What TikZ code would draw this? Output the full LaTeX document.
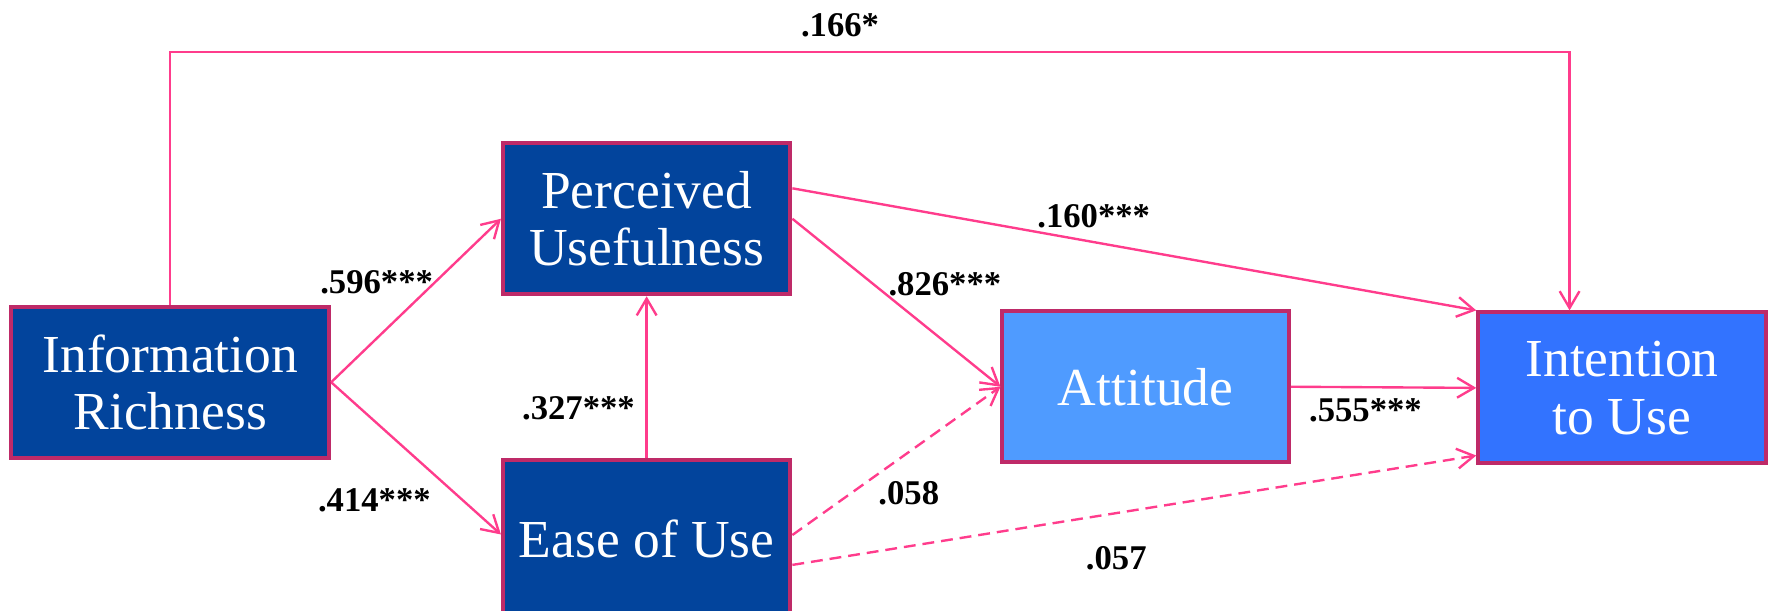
\documentclass[tikz,border=0pt]{standalone}
\usepackage{fontspec}
\setmainfont{Liberation Serif}
\usetikzlibrary{arrows.meta}
\definecolor{boxborder}{HTML}{BE2A68}
\definecolor{darkfill}{HTML}{02449C}
\definecolor{attfill}{HTML}{4F9BFF}
\definecolor{itufill}{HTML}{3273FF}
\definecolor{pinkline}{HTML}{FF3C8C}
\begin{document}
\begin{tikzpicture}[x=0.02cm,y=0.02cm,
 box/.style={draw=boxborder, line width=2pt, text=white, align=center,
   font=\fontsize{27}{29}\selectfont, inner sep=0pt},
 conn/.style={draw=pinkline, line width=1.2pt, -{Straight Barb[length=8.5pt,width=10pt]}},
 dashconn/.style={conn, dash pattern=on 6pt off 3.5pt},
 lab/.style={font=\fontsize{17.5}{19}\bfseries\selectfont, inner sep=0pt}]
\useasboundingbox (0,0) rectangle (1568,-541);
\clip (0,0) rectangle (1568,-541);

\node[box, fill=darkfill, minimum width=5.64cm, minimum height=2.68cm] (IR) at (151,-339) {Information\\Richness};
\node[box, fill=darkfill, minimum width=5.1cm, minimum height=2.68cm] (PU) at (573.5,-194) {Perceived\\Usefulness};
\node[box, fill=darkfill, minimum width=5.1cm, minimum height=2.8cm] (EU) at (573.5,-478) {Ease of Use};
\node[box, fill=attfill, minimum width=5.08cm, minimum height=2.68cm] (AT) at (1016,-343) {Attitude};
\node[box, fill=itufill, minimum width=5.1cm, minimum height=2.68cm] (ITU) at (1438.5,-344) {Intention\\to Use};

\coordinate (topR) at (1392,-46);
\draw[conn] (IR.north) |- (topR) -- (topR |- ITU.north);
\draw[conn] (IR.east) -- (PU.west);
\draw[conn] (IR.east) -- ([yshift=0.08cm]EU.west);
\draw[conn] (EU.north) -- (PU.south);
\draw[conn] (PU.east) -- (AT.west);
\draw[conn] ([yshift=0.54cm]PU.east) -- (ITU.north west);
\draw[conn] (AT.east) -- (ITU.west);
\draw[dashconn] ([yshift=0.07cm]EU.east) -- (AT.west);
\draw[dashconn] ([yshift=-0.46cm]EU.east) -- ([yshift=-1.2cm]ITU.west);

\node[lab] (l1) at (745,-22) {.166*};
\node[lab] (l2) at (334,-250) {.596***};
\node[lab] (l3) at (332,-444) {.414***};
\node[lab] (l4) at (513,-362) {.327***};
\node[lab] (l5) at (970,-192) {.160***};
\node[lab] (l6) at (838,-252) {.826***};
\node[lab] (l7) at (806,-437) {.058};
\node[lab] (l8) at (1211,-364) {.555***};
\node[lab] (l9) at (990,-495) {.057};
\end{tikzpicture}
\end{document}
